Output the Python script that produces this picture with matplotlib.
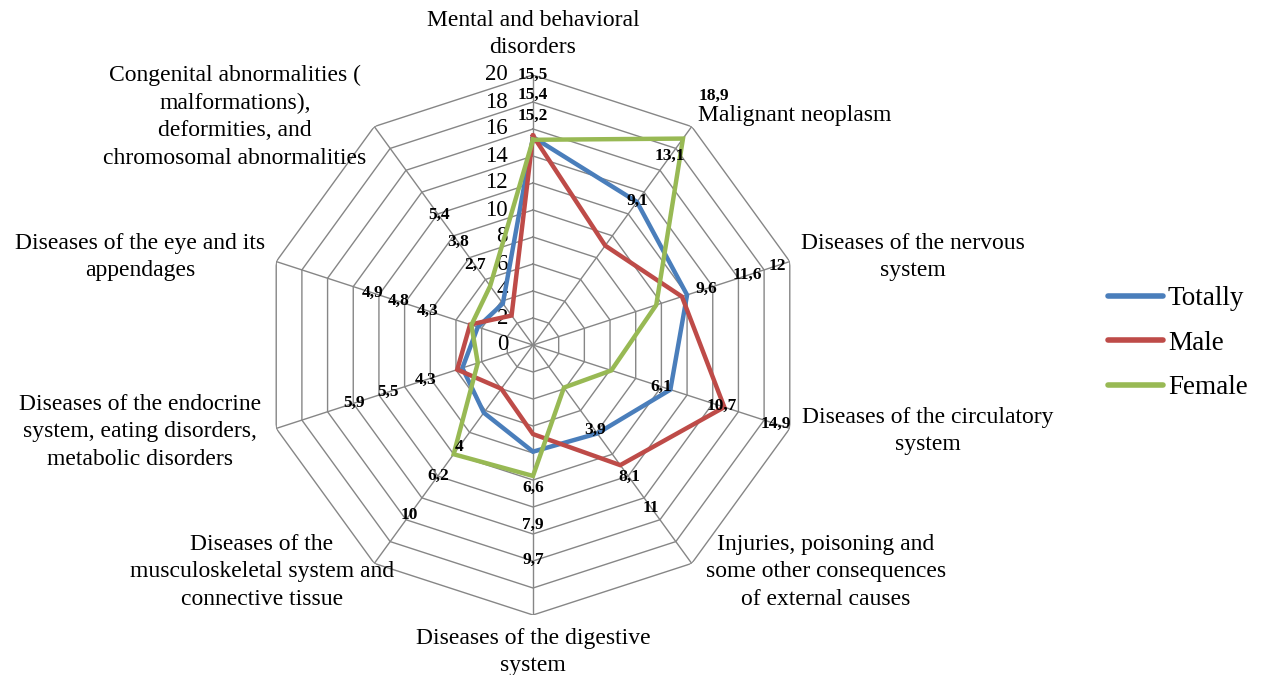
import numpy as np
import matplotlib.pyplot as plt
from matplotlib.transforms import ScaledTranslation

plt.rcParams['font.family'] = ['Liberation Serif', 'DejaVu Serif']

# dane
categories = [
    "Mental and behavioral\ndisorders",
    "Malignant neoplasm",
    "Diseases of the nervous\nsystem",
    "Diseases of the circulatory\nsystem",
    "Injuries, poisoning and\nsome other consequences\nof external causes",
    "Diseases of the digestive\nsystem",
    "Diseases of the\nmusculoskeletal system and\nconnective tissue",
    "Diseases of the endocrine\nsystem, eating disorders,\nmetabolic disorders",
    "Diseases of the eye and its\nappendages",
    "Congenital abnormalities (\nmalformations),\ndeformities, and\nchromosomal abnormalities",
]
totally = [15.4, 13.1, 12, 10.7, 8.1, 7.9, 6.2, 5.5, 4.3, 3.8]
male = [15.5, 9.1, 11.6, 14.9, 11, 6.6, 4, 5.9, 4.9, 2.7]
female = [15.2, 18.9, 9.6, 6.1, 3.9, 9.7, 10, 4.3, 4.8, 5.4]
series_names = ["Totally", "Male", "Female"]
ring_ticks = list(range(0, 21, 2))

# uklad
colors = ['#4A7EBB', '#BE4B48', '#98B954']
# promienie etykiet danych (od najmniejszej wartosci w kategorii)
label_r = [
    [17.0, 18.5, 20.0],
    [13.2, 17.3, 22.8],
    [13.5, 16.7, 19.0],
    [10.0, 14.7, 18.9],
    [7.8, 12.1, 14.9],
    [10.6, 13.3, 15.9],
    [9.3, 12.0, 15.6],
    [8.4, 11.3, 13.9],
    [8.2, 10.5, 12.5],
    [7.3, 9.4, 11.9],
]
# polozenie nazw kategorii w pikselach (srodek, wyrownanie)
cat_pos = [
    (533, 34, 'center'),
    (698, 116, 'left'),
    (913, 257, 'center'),
    (928, 431, 'center'),
    (826, 572, 'center'),
    (533, 652, 'center'),
    (262, 572, 'center'),
    (140, 432, 'center'),
    (140, 257, 'center'),
    (235, 117, 'center'),
]

W, H = 1262, 675
fig = plt.figure(figsize=(W / 100, H / 100), dpi=100)
cx, cy, R = 533, 345, 270
ax = fig.add_axes([(cx - R) / W, (H - cy - R) / H, 2 * R / W, 2 * R / H], projection='polar')
ax.set_theta_zero_location('N')
ax.set_theta_direction(-1)
ax.set_ylim(0, 20)
ax.grid(False)
ax.spines['polar'].set_visible(False)
ax.set_xticks([])
ax.set_yticks([])
ax.patch.set_alpha(0)

n = len(categories)
theta = np.linspace(0, 2 * np.pi, n, endpoint=False)
theta_c = np.append(theta, theta[0])

# siatka wielokatna
for r in ring_ticks[1:]:
    ax.plot(theta_c, [r] * (n + 1), color='#868686', lw=1.0, zorder=1)
for t in theta:
    ax.plot([t, t], [0, 20], color='#868686', lw=1.0, zorder=1)

# etykiety osi promieniowej
off = ScaledTranslation(-25 / 100, 0, fig.dpi_scale_trans)
for r in ring_ticks:
    ax.text(0, r, str(r), transform=ax.transData + off, ha='right', va='center',
            fontsize=16.5, clip_on=False)

all_series = [totally, male, female]
for vals, name, col in zip(all_series, series_names, colors):
    v = list(vals) + [vals[0]]
    ax.plot(theta_c, v, color=col, lw=3.2, label=name, zorder=3, solid_joinstyle='miter')

# etykiety danych
for i in range(n):
    vals = [s[i] for s in all_series]
    order = np.argsort(vals, kind='stable')
    for rank, k in enumerate(order):
        txt = ('%g' % vals[k]).replace('.', ',')
        ax.text(theta[i], label_r[i][rank], txt, ha='center', va='center',
                fontsize=12.5, fontweight='bold', clip_on=False, zorder=4)

# nazwy kategorii
for name, (x, y, ha) in zip(categories, cat_pos):
    fig.text(x / W, 1 - y / H, name, ha=ha, va='center', fontsize=17,
             multialignment='center', linespacing=1.4)

leg = fig.legend(loc='center left', bbox_to_anchor=(1084 / W, 1 - 343 / H), frameon=False,
                 fontsize=19.5, handlelength=2.0, handletextpad=0.2, labelspacing=0.72)
for h in leg.get_lines():
    h.set_linewidth(4)
    h.set_solid_capstyle('round')

fig.savefig('out.png', dpi=100)
